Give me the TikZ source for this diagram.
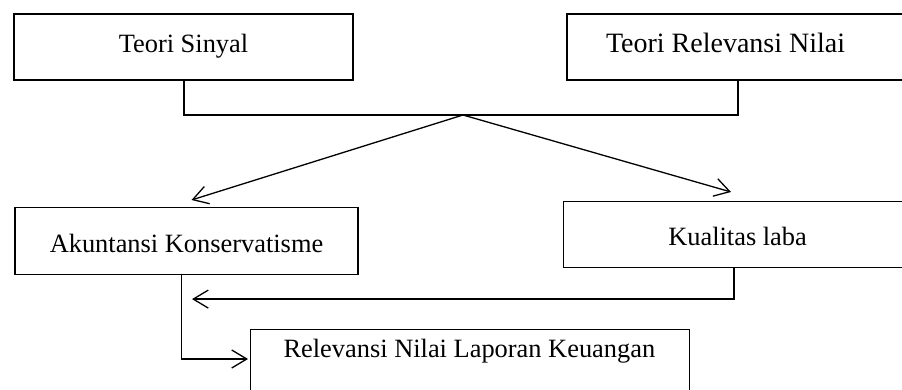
\documentclass[tikz,border=0pt]{standalone}
\usepackage{fontspec}
\setmainfont{Liberation Serif}
\usetikzlibrary{arrows.meta,positioning,calc}
\tikzset{
  box/.style={draw, inner sep=0pt, font=\fontsize{26.4}{32}\selectfont},
  topbox/.style={box, line width=2pt, minimum height=66pt, text height=18pt, text depth=6pt},
  lowbox/.style={box, line width=1.1pt, minimum height=67pt, text height=22pt, text depth=0pt},
  bar/.style={line width=2pt},
  fl/.style={line width=1.3pt, -{Straight Barb[length=15pt,width=18pt]}},
}

\begin{document}
\begin{tikzpicture}[x=1pt, y=-1pt, node distance=126pt and 212pt]
\useasboundingbox (0,0) rectangle (902,390);
\clip (0,0) rectangle (902,390);
\node[topbox, minimum width=339pt, anchor=north west] (sinyal) at (13,13) {Teori Sinyal};
\node[topbox, font=\fontsize{28}{32}\selectfont, text width=300pt, align=flush left, inner xsep=39pt, right=of sinyal] (relnilai) {Teori Relevansi Nilai};
\node[lowbox, minimum width=343pt, below=of sinyal, xshift=3pt] (akun) {Akuntansi Konservatisme};
\node[lowbox, minimum width=348pt, minimum height=66pt, anchor=north west] (kual) at (563,201) {Kualitas laba};
\node[box, line width=1.1pt, text width=373pt, align=flush left, inner xsep=33pt,
  text height=27.7pt, text depth=60pt, anchor=north west] (rel) at (250,329) {Relevansi Nilai Laporan Keuangan};
\coordinate (apex) at (463,115);
\draw[bar] (sinyal.south) -- ++(0,34) -| ([xshift=172pt]relnilai.south west);
\draw[fl] (apex) -- ([xshift=5pt,yshift=7pt]akun.north);
\draw[fl] (apex) -- ([xshift=168pt,yshift=9pt]kual.north west);
\draw[fl] ([xshift=171pt]kual.south west) |- ([xshift=5.5pt,yshift=-24pt]akun.south);
\draw[fl] ([xshift=-5pt]akun.south) |- ([xshift=-2pt,yshift=-30pt]rel.north west);
\end{tikzpicture}
\end{document}
